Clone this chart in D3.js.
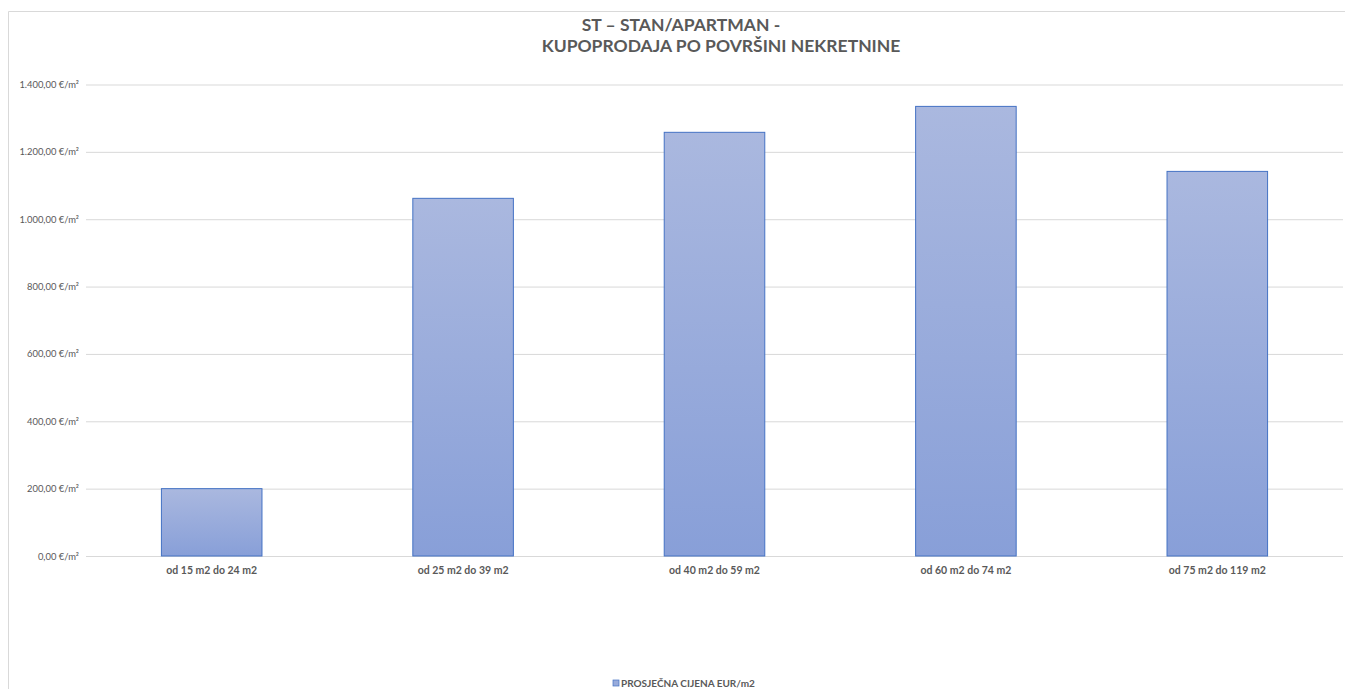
<!DOCTYPE html>
<html>
<head>
<meta charset="utf-8">
<script src="https://cdn.jsdelivr.net/npm/d3@7"></script>
<style>
  body { margin: 0; background: #fff; }
  svg { display: block; font-family: Lato, "Open Sans", sans-serif; }
</style>
</head>
<body>
<svg id="chart" width="1345" height="689"></svg>
<script>
var categories = ["od 15 m2 do 24 m2", "od 25 m2 do 39 m2", "od 40 m2 do 59 m2", "od 60 m2 do 74 m2", "od 75 m2 do 119 m2"];
var values = [200, 1062, 1258, 1335, 1142];
var yTicks = [0, 200, 400, 600, 800, 1000, 1200, 1400];
var titleLines = ["ST – STAN/APARTMAN -", "KUPOPRODAJA PO POVRŠINI NEKRETNINE"];
var seriesName = "PROSJEČNA CIJENA EUR/m2";

var svg = d3.select("#chart");
var plotL = 86, plotR = 1343, plotT = 84.5, plotB = 556;

// chart area border
svg.append("path")
    .attr("d", "M8.5,689 V11.5 H1345")
    .attr("fill", "none")
    .attr("stroke", "#d9d9d9");

var x = d3.scaleBand().domain(categories).range([plotL, plotR]).paddingInner(0.6).paddingOuter(0.3);
var y = d3.scaleLinear().domain([0, 1400]).range([plotB, plotT]);

var fmt = function(v) {
    var s = d3.format(",.2f")(v);
    s = s.replace(/,/g, "#").replace(".", ",").replace(/#/g, ".");
    return s + " €/m²";
};

// gridlines + y labels
var yAxis = d3.axisLeft(y).tickValues(yTicks).tickSize(-(plotR - plotL)).tickFormat(fmt).tickPadding(7);
var gy = svg.append("g").attr("transform", "translate(" + plotL + ",0)").call(yAxis)
    .attr("font-family", null);
gy.select(".domain").remove();
gy.selectAll(".tick line").attr("stroke", "#d9d9d9");
gy.selectAll(".tick text").attr("fill", "#595959").attr("font-size", "9.4px");

var grad = svg.append("defs").append("linearGradient")
    .attr("id", "barGrad").attr("x1", 0).attr("y1", 0).attr("x2", 0).attr("y2", 1);
grad.append("stop").attr("offset", "0%").attr("stop-color", "#aab8df");
grad.append("stop").attr("offset", "100%").attr("stop-color", "#889fd8");

svg.append("g").selectAll("rect")
    .data(values)
    .join("rect")
    .attr("x", function(d, i) { return x(categories[i]); })
    .attr("y", function(d) { return y(d); })
    .attr("width", x.bandwidth())
    .attr("height", function(d) { return y(0) - y(d); })
    .attr("fill", "url(#barGrad)")
    .attr("stroke", "#4472c4")
    .attr("stroke-width", 1);

// x labels
var xAxis = d3.axisBottom(x).tickSize(0).tickPadding(11);
var gx = svg.append("g").attr("transform", "translate(0," + plotB + ")").call(xAxis)
    .attr("font-family", null);
gx.select(".domain").remove();
gx.selectAll(".tick text").attr("fill", "#595959").attr("font-size", "10.5px").attr("font-weight", "bold");

// title
svg.append("text").attr("x", 681).attr("y", 31).attr("text-anchor", "middle")
    .attr("font-size", "17.5px").attr("font-weight", "bold").attr("fill", "#595959").text(titleLines[0]);
svg.append("text").attr("x", 721).attr("y", 52).attr("text-anchor", "middle")
    .attr("font-size", "17.5px").attr("font-weight", "bold").attr("fill", "#595959").text(titleLines[1]);

// legend
var lg = svg.append("g").attr("transform", "translate(613,680)");
lg.append("rect").attr("width", 6).attr("height", 6)
    .attr("fill", "#98abdb").attr("stroke", "#4472c4").attr("stroke-width", 0.7);
lg.append("text").attr("x", 8).attr("y", 7).attr("font-size", "10px").attr("font-weight", "bold")
    .attr("fill", "#595959").text(seriesName);
</script>
</body>
</html>
